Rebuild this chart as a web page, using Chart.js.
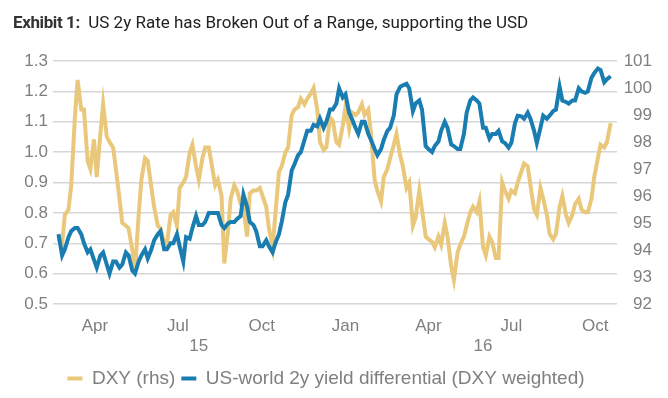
<!DOCTYPE html>
<html>
<head>
<meta charset="utf-8">
<script src="https://cdn.jsdelivr.net/npm/chart.js@4.4.0/dist/chart.umd.min.js"></script>
<style>
  body { margin: 0; background: #fff; }
  #wrap { position: relative; width: 668px; height: 398px; }
  #title { position: absolute; left: 13px; top: 12px; font: 17px/20px Roboto, sans-serif; color: #222; white-space: nowrap; }
  #title b { color: #333; letter-spacing: -0.4px; }
</style>
</head>
<body>
<div id="wrap">
  <div id="title"><b>Exhibit 1:</b>&nbsp; US 2y Rate has Broken Out of a Range, supporting the USD</div>
  <canvas id="myChart" width="668" height="398"></canvas>
</div>
<script>
// twice-weekly observations (Fri / Tue)
const dates = [
  '2015-02-20', '2015-02-24', '2015-02-27', '2015-03-03', '2015-03-06', '2015-03-10',
  '2015-03-13', '2015-03-17', '2015-03-20', '2015-03-24', '2015-03-27', '2015-03-31',
  '2015-04-03', '2015-04-07', '2015-04-10', '2015-04-14', '2015-04-17', '2015-04-21',
  '2015-04-24', '2015-04-28', '2015-05-01', '2015-05-05', '2015-05-08', '2015-05-12',
  '2015-05-15', '2015-05-19', '2015-05-22', '2015-05-26', '2015-05-29', '2015-06-02',
  '2015-06-05', '2015-06-09', '2015-06-12', '2015-06-16', '2015-06-19', '2015-06-23',
  '2015-06-26', '2015-06-30', '2015-07-03', '2015-07-07', '2015-07-10', '2015-07-14',
  '2015-07-17', '2015-07-21', '2015-07-24', '2015-07-28', '2015-07-31', '2015-08-04',
  '2015-08-07', '2015-08-11', '2015-08-14', '2015-08-18', '2015-08-21', '2015-08-25',
  '2015-08-28', '2015-09-01', '2015-09-04', '2015-09-08', '2015-09-11', '2015-09-15',
  '2015-09-18', '2015-09-22', '2015-09-25', '2015-09-29', '2015-10-02', '2015-10-06',
  '2015-10-09', '2015-10-13', '2015-10-16', '2015-10-20', '2015-10-23', '2015-10-27',
  '2015-10-30', '2015-11-03', '2015-11-06', '2015-11-10', '2015-11-13', '2015-11-17',
  '2015-11-20', '2015-11-24', '2015-11-27', '2015-12-01', '2015-12-04', '2015-12-08',
  '2015-12-11', '2015-12-15', '2015-12-18', '2015-12-22', '2015-12-25', '2015-12-29',
  '2016-01-01', '2016-01-05', '2016-01-08', '2016-01-12', '2016-01-15', '2016-01-19',
  '2016-01-22', '2016-01-26', '2016-01-29', '2016-02-02', '2016-02-05', '2016-02-09',
  '2016-02-12', '2016-02-16', '2016-02-19', '2016-02-23', '2016-02-26', '2016-03-01',
  '2016-03-04', '2016-03-08', '2016-03-11', '2016-03-15', '2016-03-18', '2016-03-22',
  '2016-03-25', '2016-03-29', '2016-04-01', '2016-04-05', '2016-04-08', '2016-04-12',
  '2016-04-15', '2016-04-19', '2016-04-22', '2016-04-26', '2016-04-29', '2016-05-03',
  '2016-05-06', '2016-05-10', '2016-05-13', '2016-05-17', '2016-05-20', '2016-05-24',
  '2016-05-27', '2016-05-31', '2016-06-03', '2016-06-07', '2016-06-10', '2016-06-14',
  '2016-06-17', '2016-06-21', '2016-06-24', '2016-06-28', '2016-07-01', '2016-07-05',
  '2016-07-08', '2016-07-12', '2016-07-15', '2016-07-19', '2016-07-22', '2016-07-26',
  '2016-07-29', '2016-08-02', '2016-08-05', '2016-08-09', '2016-08-12', '2016-08-16',
  '2016-08-19', '2016-08-23', '2016-08-26', '2016-08-30', '2016-09-02', '2016-09-06',
  '2016-09-09', '2016-09-13', '2016-09-16', '2016-09-20', '2016-09-23', '2016-09-27',
  '2016-09-30', '2016-10-04', '2016-10-07', '2016-10-11', '2016-10-14', '2016-10-18'
];

const dxy = [
  94.4, 94.2, 95.3, 95.5, 96.4, 98.9, 100.3, 99.2, 99.2, 97.3, 97.0, 98.1,
  96.7, 98.3, 99.4, 98.2, 98.0, 97.8, 97.0, 95.9, 95.0, 94.9, 94.8, 94.0,
  93.2, 95.3, 96.6, 97.4, 97.3, 96.3, 95.6, 94.9, 94.8, 94.3, 94.2, 95.3,
  95.4, 94.9, 96.3, 96.5, 96.7, 97.6, 97.9, 97.1, 96.6, 97.4, 97.8, 97.8,
  97.2, 96.4, 96.6, 96.0, 93.5, 94.7, 95.9, 96.4, 96.2, 95.7, 95.6, 94.5,
  96.1, 96.2, 96.2, 96.3, 96.0, 95.6, 94.8, 94.1, 95.3, 96.9, 97.1, 97.6,
  97.8, 99.0, 99.2, 99.3, 99.6, 99.4, 99.6, 99.8, 100.0, 99.2, 98.0, 97.7,
  97.8, 98.9, 98.8, 98.0, 97.9, 98.6, 99.3, 98.5, 99.1, 99.0, 99.1, 99.4,
  99.0, 99.2, 98.3, 96.6, 96.2, 95.8, 96.7, 97.0, 97.4, 97.9, 98.3, 97.5,
  97.1, 96.3, 96.5, 94.9, 95.2, 96.2, 95.5, 94.5, 94.4, 94.3, 94.1, 94.5,
  94.2, 95.0, 94.5, 93.4, 92.9, 93.9, 94.2, 94.5, 94.9, 95.4, 95.6, 95.4,
  95.8, 94.1, 93.8, 94.5, 94.3, 93.7, 93.7, 96.5, 96.2, 95.9, 96.2, 96.1,
  96.5, 96.9, 97.2, 97.1, 96.4, 95.5, 95.3, 96.3, 95.9, 95.3, 94.6, 94.4,
  94.6, 95.6, 96.0, 95.3, 95.0, 95.3, 95.7, 95.9, 95.5, 95.4, 95.4, 95.9,
  96.7, 97.4, 97.9, 97.8, 98.0, 98.7
];

const yieldDiff = [
  0.73, 0.66, 0.68, 0.72, 0.74, 0.75, 0.75, 0.73, 0.70, 0.67, 0.68, 0.645,
  0.62, 0.66, 0.67, 0.63, 0.60, 0.64, 0.64, 0.62, 0.63, 0.67, 0.66, 0.61,
  0.60, 0.64, 0.66, 0.68, 0.65, 0.68, 0.71, 0.73, 0.74, 0.68, 0.68, 0.70,
  0.70, 0.73, 0.69, 0.64, 0.72, 0.715, 0.75, 0.79, 0.76, 0.76, 0.77, 0.80,
  0.80, 0.80, 0.80, 0.76, 0.75, 0.765, 0.77, 0.77, 0.78, 0.79, 0.86, 0.82,
  0.77, 0.76, 0.74, 0.69, 0.69, 0.71, 0.69, 0.67, 0.70, 0.73, 0.77, 0.835,
  0.86, 0.94, 0.96, 0.99, 1.00, 1.04, 1.07, 1.07, 1.09, 1.085, 1.11, 1.08,
  1.10, 1.14, 1.14, 1.16, 1.21, 1.18, 1.19, 1.13, 1.11, 1.08, 1.06, 1.10,
  1.10, 1.06, 1.04, 1.01, 0.99, 1.01, 1.04, 1.07, 1.08, 1.12, 1.19, 1.215,
  1.22, 1.225, 1.21, 1.135, 1.16, 1.17, 1.14, 1.02, 1.01, 1.00, 1.02, 1.035,
  1.07, 1.10, 1.08, 1.025, 1.02, 1.01, 1.01, 1.06, 1.13, 1.17, 1.18, 1.17,
  1.16, 1.08, 1.08, 1.045, 1.06, 1.06, 1.07, 1.035, 1.03, 1.015, 1.03, 1.095,
  1.12, 1.118, 1.11, 1.13, 1.11, 1.07, 1.03, 1.08, 1.12, 1.11, 1.12, 1.135,
  1.14, 1.215, 1.17, 1.165, 1.16, 1.17, 1.17, 1.21, 1.20, 1.195, 1.20, 1.245,
  1.26, 1.275, 1.27, 1.23, 1.24, 1.25
];

const monthTickDates = ['2015-04-01', '2015-07-01', '2015-10-01', '2016-01-01', '2016-04-01', '2016-07-01', '2016-10-01'];
const monthTickLabels = ['Apr', 'Jul', 'Oct', 'Jan', 'Apr', 'Jul', 'Oct'];
const yearTickDates = ['2015-07-24', '2016-05-31'];
const yearTickLabels = ['15', '16'];

function dayNum(s) {
  return Date.parse(s + 'T00:00:00Z') / 86400000;
}

const yellow = '#E9C87B';
const blue = '#1A7DB1';
const grey = '#7f7f7f';
const tickFont = { family: "'Liberation Sans', Arial, sans-serif", size: 17 };
const legendFont = { family: "'Liberation Sans', Arial, sans-serif", size: 19 };
const xMin = dayNum('2015-02-14');
const xMax = dayNum('2016-10-25');

const ctx = document.getElementById('myChart');
new Chart(ctx, {
  type: 'line',
  data: {
    datasets: [
      {
        label: 'DXY (rhs)',
        data: dates.map((d, i) => ({ x: dayNum(d), y: dxy[i] })),
        xAxisID: 'x',
        yAxisID: 'y1',
        borderColor: yellow,
        backgroundColor: yellow,
        borderWidth: 4,
        pointRadius: 0,
        order: 1,
      },
      {
        label: 'US-world 2y yield differential (DXY weighted)',
        data: dates.map((d, i) => ({ x: dayNum(d), y: yieldDiff[i] })),
        xAxisID: 'x',
        yAxisID: 'y',
        borderColor: blue,
        backgroundColor: blue,
        borderWidth: 4,
        pointRadius: 0,
        order: 0,
      },
    ],
  },
  options: {
    responsive: false,
    animation: false,
    layout: { padding: { top: 61, right: 16, left: 0, bottom: 0 } },
    plugins: {
      tooltip: { enabled: false },
      legend: {
        position: 'bottom',
        labels: {
          boxWidth: 15,
          boxHeight: 4,
          color: grey,
          font: legendFont,
          padding: 6,
          generateLabels: (chart) =>
            Chart.defaults.plugins.legend.labels.generateLabels(chart)
              .sort((a, b) => a.datasetIndex - b.datasetIndex)
              .map((item) => Object.assign(item, { lineWidth: 0 })),
        },
      },
    },
    scales: {
      x: {
        type: 'linear',
        position: 'bottom',
        weight: 0,
        min: xMin,
        max: xMax,
        grid: { display: false, drawTicks: false },
        border: { display: false },
        afterBuildTicks: (axis) => {
          axis.ticks = monthTickDates.map((d) => ({ value: dayNum(d) }));
        },
        afterFit: (s) => { s.height = 30; },
        ticks: {
          autoSkip: false,
          maxRotation: 0,
          color: grey,
          font: tickFont,
          padding: 12,
          callback: (v, i) => monthTickLabels[i],
        },
      },
      x2: {
        type: 'linear',
        position: 'bottom',
        weight: 1,
        min: xMin,
        max: xMax,
        grid: { display: false, drawTicks: false },
        border: { display: false },
        afterBuildTicks: (axis) => {
          axis.ticks = yearTickDates.map((d) => ({ value: dayNum(d) }));
        },
        afterFit: (s) => { s.height = 29; },
        ticks: {
          autoSkip: false,
          maxRotation: 0,
          color: grey,
          font: tickFont,
          padding: 2,
          callback: (v, i) => yearTickLabels[i],
        },
      },
      y: {
        position: 'left',
        min: 0.5,
        max: 1.3,
        grid: { color: '#d6d6d6', lineWidth: 1.5, drawTicks: false },
        border: { display: false },
        afterFit: (s) => { s.width = 53; },
        ticks: {
          stepSize: 0.1,
          color: grey,
          font: tickFont,
          padding: 5,
          callback: (v) => v.toFixed(1),
        },
      },
      y1: {
        position: 'right',
        min: 92,
        max: 101,
        grid: { display: false, drawTicks: false },
        border: { display: false },
        afterFit: (s) => { s.width = 35; },
        ticks: {
          stepSize: 1,
          color: grey,
          font: tickFont,
          crossAlign: 'far',
        },
      },
    },
  },
});
</script>
</body>
</html>
